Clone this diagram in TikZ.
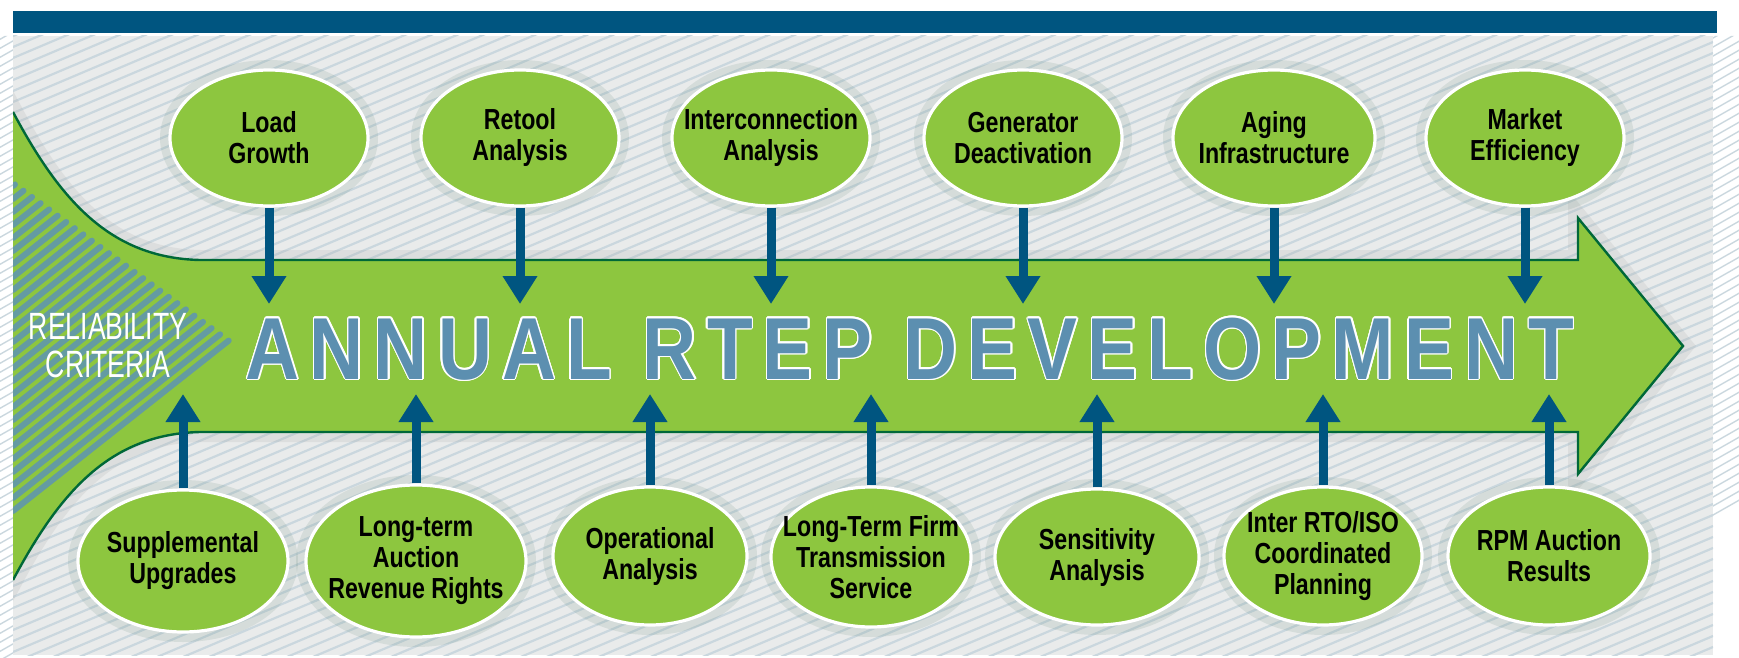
\documentclass[tikz,border=0pt]{standalone}
\usepackage{fontspec}
\usepackage[copies]{contour}
\usetikzlibrary{arrows.meta,shapes.geometric}

\setmainfont{Liberation Sans}
\newfontfamily\bubblefont[FakeStretch=0.8]{Liberation Sans}
\newfontfamily\titlefont[FakeStretch=0.85,LetterSpace=11.5]{Liberation Sans}
\newfontfamily\critfont[FakeStretch=0.7]{Liberation Sans}
\contourlength{0.7pt}

\definecolor{rtepblue}{RGB}{0,85,128}
\definecolor{rtepgreen}{RGB}{141,198,63}
\definecolor{rimgreen}{RGB}{0,104,56}
\definecolor{titleblue}{RGB}{92,143,176}
\definecolor{scribble}{RGB}{100,155,162}
\definecolor{paper}{RGB}{233,235,235}
\definecolor{stripe}{RGB}{202,215,222}

\tikzset{
	bubble/.style={ellipse, fill=rtepgreen, draw=white, line width=1.6pt,
		inner xsep=-12pt, inner ysep=0pt, align=center,
		font=\bubblefont\bfseries\fontsize{14.5}{15.5}\selectfont,
		preaction={draw=rimgreen!40!gray, line width=10pt, opacity=.12}},
	feed/.style={draw=rtepblue, line width=4.5pt, -{Triangle[width=16.5pt,length=14pt]}},
}

\begin{document}
\begin{tikzpicture}[x=0.5pt,y=-0.5pt]
	\useasboundingbox (0,0) rectangle (1739,658);
	% blue band on top
	\fill[rtepblue] (13,11) rectangle (1717,33);
	% scribbled margins
	\begin{scope}
		\clip (0,36) rectangle (13,658) (1713,36) rectangle (1739,658);
		\foreach \c in {0,9,...,1500}
			\draw[stripe, line width=.7pt] (-10,\c) -- ++(1760,-1000);
	\end{scope}
	% panel with stripes, arrow body and scribbles
	\begin{scope}
		\clip (13,36) rectangle (1713,655);
		\fill[paper] (13,36) rectangle (1713,655);
		\foreach \c in {0,11,...,1460}
			\draw[stripe, line width=1.1pt] (13,36+\c) -- ++(1700,-720);
		\fill[rtepgreen, preaction={draw=black!35, line width=10pt, opacity=.18}] (13,112) .. controls (60,200) and (110,258) .. (200,260) -- (1578,260) -- (1578,218) -- (1683,346) -- (1578,474) -- (1578,432) -- (200,432) .. controls (110,434) and (60,492) .. (13,580) -- cycle;
		\draw[rimgreen, line width=1.2pt] (13,112) .. controls (60,200) and (110,258) .. (200,260) -- (1578,260) -- (1578,218) -- (1683,346) -- (1578,474) -- (1578,432) -- (200,432) .. controls (110,434) and (60,492) .. (13,580);
		\foreach \y in {186,199,...,522} {
			\pgfmathsetmacro\da{(\y-183)/1.5207}
			\pgfmathsetmacro\db{(527-\y)/0.03}
			\pgfmathsetmacro\dd{min(\da,\db)}
			\draw[scribble, line width=3pt, line cap=round] (13,\y) -- ++({\dd},{-0.79*\dd});
		}
	\end{scope}

	\node[font=\titlefont\bfseries\fontsize{44}{44}\selectfont, text=titleblue, anchor=base] (title) at (910,379) {\contour{white}{ANNUAL RTEP DEVELOPMENT}};
	\node[font=\critfont\fontsize{19}{19}\selectfont, text=white, align=center] (crit) at (108,346) {RELIABILITY\\CRITERIA};

	% inputs above the arrow
	\node[bubble, minimum width=99pt, minimum height=68pt] (load) at (269,138) {Load\\Growth};
	\node[bubble, minimum width=99pt, minimum height=68pt] (retool) at (520,138) {Retool\\Analysis};
	\node[bubble, minimum width=99pt, minimum height=68pt] (intercon) at (771,138) {Interconnection\\Analysis};
	\node[bubble, minimum width=99pt, minimum height=68pt] (gendeact) at (1023,138) {Generator\\Deactivation};
	\node[bubble, minimum width=101pt, minimum height=68pt] (aging) at (1274,138) {Aging\\Infrastructure};
	\node[bubble, minimum width=99pt, minimum height=68pt] (market) at (1525,138) {Market\\Efficiency};

	% inputs below the arrow
	\node[bubble, minimum width=105pt, minimum height=71pt] (suppl) at (183,561) {Supplemental\\Upgrades};
	\node[bubble, minimum width=110pt, minimum height=76pt] (ltarr) at (416,561) {Long-term\\Auction\\Revenue Rights};
	\node[bubble, minimum width=97pt, minimum height=69pt] (operat) at (650,556) {Operational\\Analysis};
	\node[bubble, minimum width=100pt, minimum height=70pt] (ltfirm) at (871,557) {Long-Term Firm\\Transmission\\Service};
	\node[bubble, minimum width=102pt, minimum height=68pt] (sensit) at (1097,557) {Sensitivity\\Analysis};
	\node[bubble, minimum width=99pt, minimum height=69pt] (interrto) at (1323,556) {Inter RTO/ISO\\Coordinated\\Planning};
	\node[bubble, minimum width=101pt, minimum height=69pt] (rpm) at (1549,556) {RPM Auction\\Results};

	\coordinate (downtip) at (0,304);
	\coordinate (uptip) at (0,394);
	\draw[feed] (load.south) -- (load.south |- downtip);
	\draw[feed] (retool.south) -- (retool.south |- downtip);
	\draw[feed] (intercon.south) -- (intercon.south |- downtip);
	\draw[feed] (gendeact.south) -- (gendeact.south |- downtip);
	\draw[feed] (aging.south) -- (aging.south |- downtip);
	\draw[feed] (market.south) -- (market.south |- downtip);
	\draw[feed] (suppl.north) -- (suppl.north |- uptip);
	\draw[feed] (ltarr.north) -- (ltarr.north |- uptip);
	\draw[feed] (operat.north) -- (operat.north |- uptip);
	\draw[feed] (ltfirm.north) -- (ltfirm.north |- uptip);
	\draw[feed] (sensit.north) -- (sensit.north |- uptip);
	\draw[feed] (interrto.north) -- (interrto.north |- uptip);
	\draw[feed] (rpm.north) -- (rpm.north |- uptip);
\end{tikzpicture}
\end{document}
